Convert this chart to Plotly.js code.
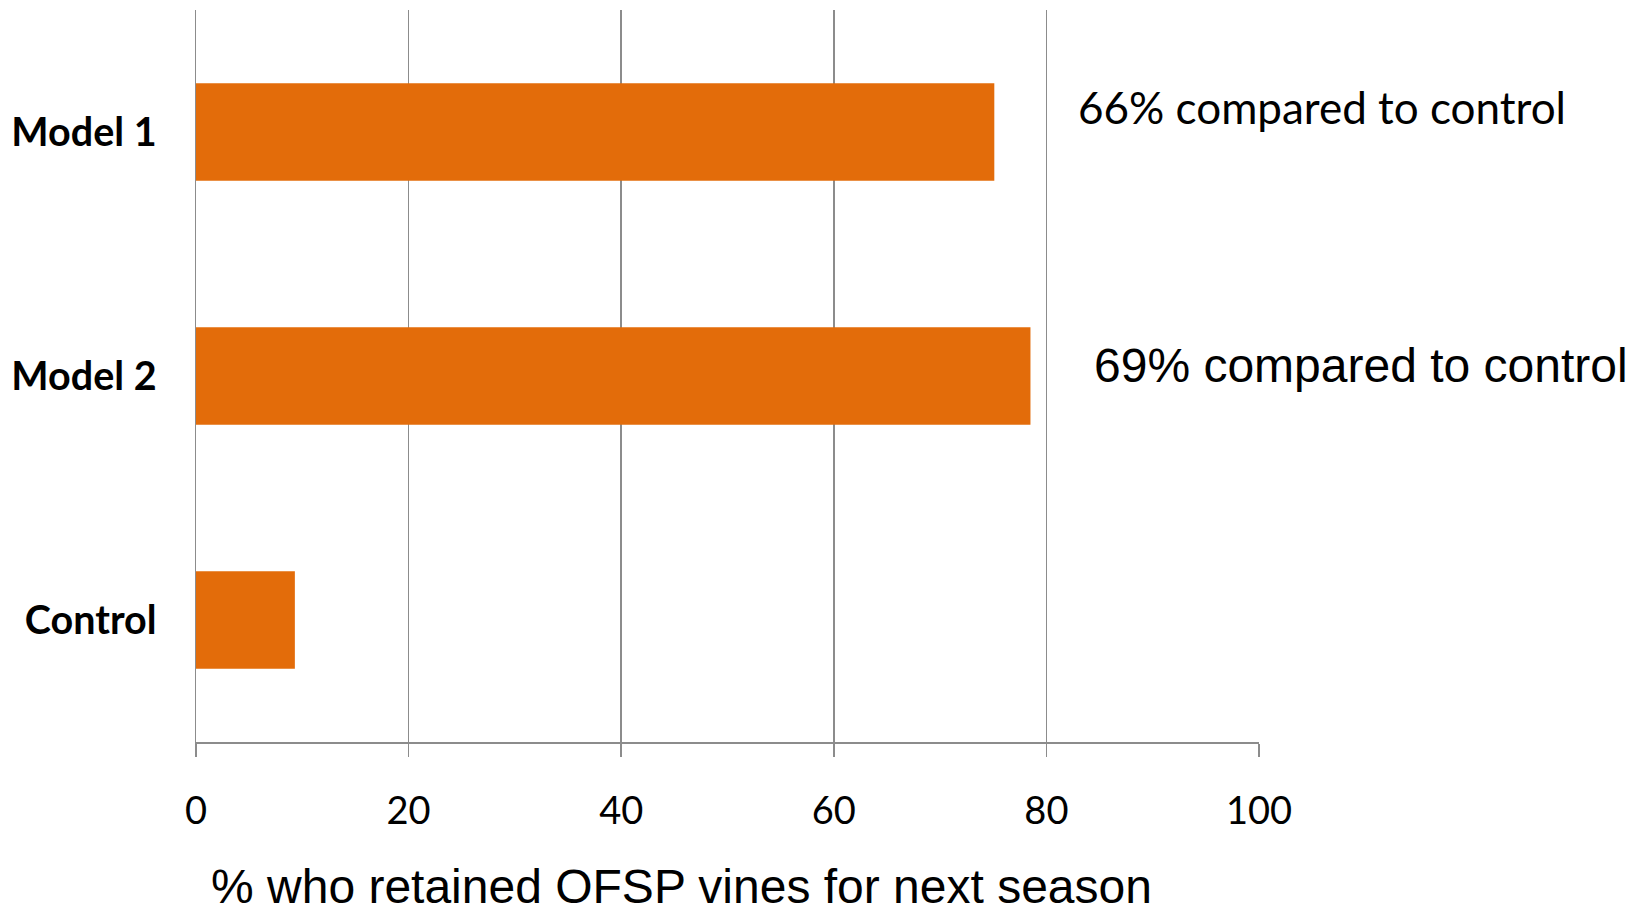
<!DOCTYPE html>
<html>
<head>
<meta charset="utf-8">
<script src="https://cdn.plot.ly/plotly-3.0.1.min.js"></script>
<style>html,body{margin:0;padding:0;background:#fff;}#chart{width:1629px;height:914px;}</style>
</head>
<body>
<div id="chart"></div>
<script>
const categories = ["Model 1", "Model 2", "Control"];
const retained = [75.1, 78.5, 9.3];
const xTicks = [0, 20, 40, 60, 80, 100];
const notes = ["66% compared to control", "69% compared to control"];
const xTitle = "% who retained OFSP vines for next season";

const trace = {
  type: "bar",
  orientation: "h",
  y: categories,
  x: retained,
  marker: {color: "#E36C0A"},
  hoverinfo: "x+y"
};

const layout = {
  width: 1629, height: 914,
  margin: {l: 196, r: 370, t: 10, b: 172},
  paper_bgcolor: "#ffffff", plot_bgcolor: "#ffffff",
  showlegend: false,
  bargap: 0.6,
  xaxis: {
    range: [0, 100],
    tickvals: xTicks,
    ticktext: xTicks.map(String),
    showgrid: true, gridcolor: "#8c8c8c", gridwidth: 1.5,
    showline: true, linecolor: "#8c8c8c", linewidth: 1.5,
    ticks: "outside", ticklen: 13, tickcolor: "#8c8c8c", tickwidth: 1.5,
    tickfont: {family: "Lato, 'Open Sans', sans-serif", size: 38, color: "#000"},
    ticklabelstandoff: 22,
    zeroline: false, fixedrange: true
  },
  yaxis: {
    autorange: "reversed",
    type: "category",
    showgrid: false,
    showline: true, linecolor: "#8c8c8c", linewidth: 1.5,
    ticks: "",
    tickfont: {family: "Lato, 'Open Sans', sans-serif", size: 39.5, color: "#000", weight: "bold"},
    ticklabelstandoff: 30,
    zeroline: false, fixedrange: true
  },
  annotations: [
    {text: notes[0], xref: "paper", yref: "paper", x: 0.828, y: 0.867,
     xanchor: "left", yanchor: "middle", showarrow: false,
     font: {family: "Lato, 'Open Sans', sans-serif", size: 44, color: "#000"}},
    {text: notes[1], xref: "paper", yref: "paper", x: 0.843, y: 0.514,
     xanchor: "left", yanchor: "middle", showarrow: false,
     font: {family: "'Liberation Sans', Arial, sans-serif", size: 48, color: "#000"}},
    {text: xTitle, xref: "paper", yref: "paper", x: (681 - 196) / 1063, y: -(886 - 742) / 732,
     xanchor: "center", yanchor: "middle", showarrow: false, borderpad: 0,
     font: {family: "'Liberation Sans', Arial, sans-serif", size: 48, color: "#000"}}
  ]
};

Plotly.newPlot("chart", [trace], layout, {displayModeBar: false, staticPlot: true});
</script>
</body>
</html>
